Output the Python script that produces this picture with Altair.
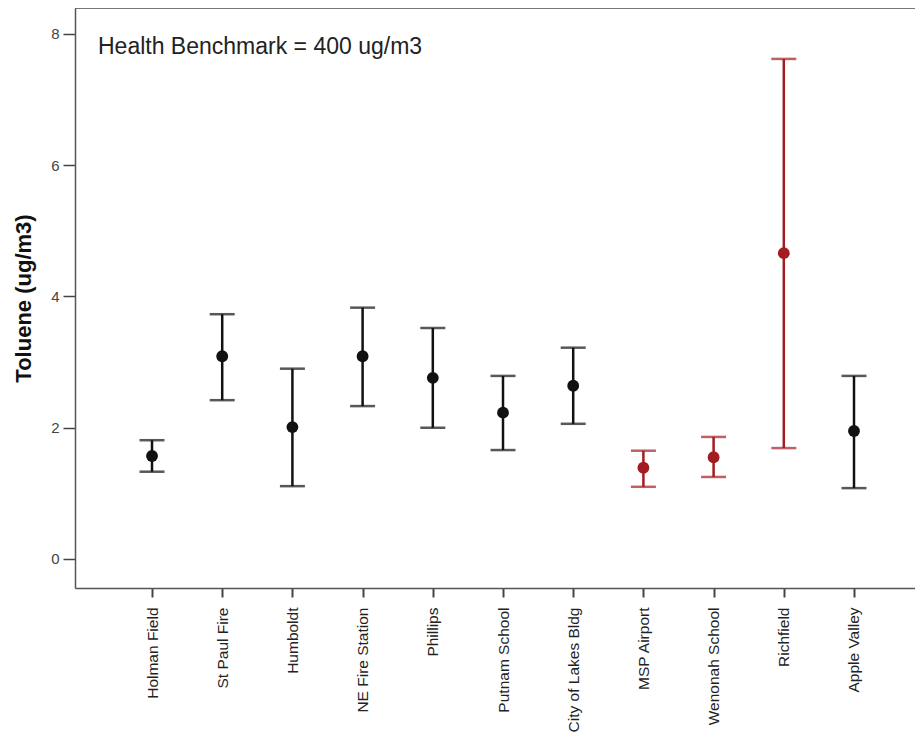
import altair as alt
import pandas as pd

sites = ["Holman Field", "St Paul Fire", "Humboldt", "NE Fire Station", "Phillips",
         "Putnam School", "City of Lakes Bldg", "MSP Airport", "Wenonah School",
         "Richfield", "Apple Valley"]
means = [1.57, 3.09, 2.01, 3.09, 2.76, 2.23, 2.64, 1.39, 1.55, 4.66, 1.95]
lows = [1.33, 2.42, 1.11, 2.33, 2.00, 1.66, 2.06, 1.10, 1.25, 1.69, 1.08]
highs = [1.81, 3.73, 2.90, 3.83, 3.52, 2.79, 3.22, 1.65, 1.86, 7.62, 2.79]
groups = ["other"] * 7 + ["highlight"] * 3 + ["other"]

df = pd.DataFrame({"site": sites, "mean": means, "low": lows, "high": highs, "group": groups})

W, H = 840, 580
FONT = "Liberation Sans"

x = alt.X("site:N", sort=sites, title=None,
          scale=alt.Scale(type="point", padding=0.983, align=0.558),
          axis=alt.Axis(labelAngle=270, labelAlign="right", labelBaseline="middle",
                        labelFontSize=15.5, labelColor="#222", labelFont=FONT,
                        tickSize=9, tickWidth=2, tickColor="#444",
                        domainColor="#555", domainWidth=1.5, labelPadding=10,
                        labelLimit=200))
color = alt.Color("group:N", scale=alt.Scale(domain=["other", "highlight"],
                                             range=["#111111", "#A31C22"]), legend=None)
yscale = alt.Scale(domain=[-0.442, 8.396], nice=False, zero=False)

base = alt.Chart(df)

rules = base.mark_rule(strokeWidth=2.5).encode(
    x=x,
    y=alt.Y("low:Q", scale=yscale, title="Toluene (ug/m3)",
            axis=alt.Axis(values=[0, 2, 4, 6, 8], format="d", grid=False, tickSize=12,
                          tickWidth=1.5, tickColor="#444", domainColor="#555", domainWidth=1.5,
                          labelFontSize=15, labelColor="#444", labelFont=FONT,
                          labelPadding=4, titleFont=FONT, titleFontSize=22,
                          titleFontWeight="bold", titleColor="#111", titlePadding=15)),
    y2="high:Q",
    color=color,
)
caps_hi = base.mark_tick(thickness=2.5, size=25).encode(x=x, y=alt.Y("high:Q", scale=yscale), color=color)
caps_lo = base.mark_tick(thickness=2.5, size=25).encode(x=x, y=alt.Y("low:Q", scale=yscale), color=color)
points = base.mark_circle(size=140, opacity=1).encode(x=x, y=alt.Y("mean:Q", scale=yscale), color=color)

top_line = alt.Chart(pd.DataFrame({"a": [0]})).mark_rule(color="#555", strokeWidth=1.5).encode(
    x=alt.value(0), x2=alt.value(W), y=alt.value(0))

note = alt.Chart(pd.DataFrame({"t": ["Health Benchmark = 400 ug/m3"]})).mark_text(
    align="left", baseline="middle", fontSize=23, font=FONT, color="#222").encode(
    text="t:N", x=alt.value(23), y=alt.value(39))

chart = alt.layer(rules, caps_hi, caps_lo, points, top_line, note).properties(
    width=W, height=H,
    autosize=alt.AutoSizeParams(type="none"),
    padding={"left": 67, "top": 0, "right": 0, "bottom": 146},
).configure_view(stroke=None).configure(background="white")

chart.save("out.html", embed_options={"renderer": "svg", "actions": False})
